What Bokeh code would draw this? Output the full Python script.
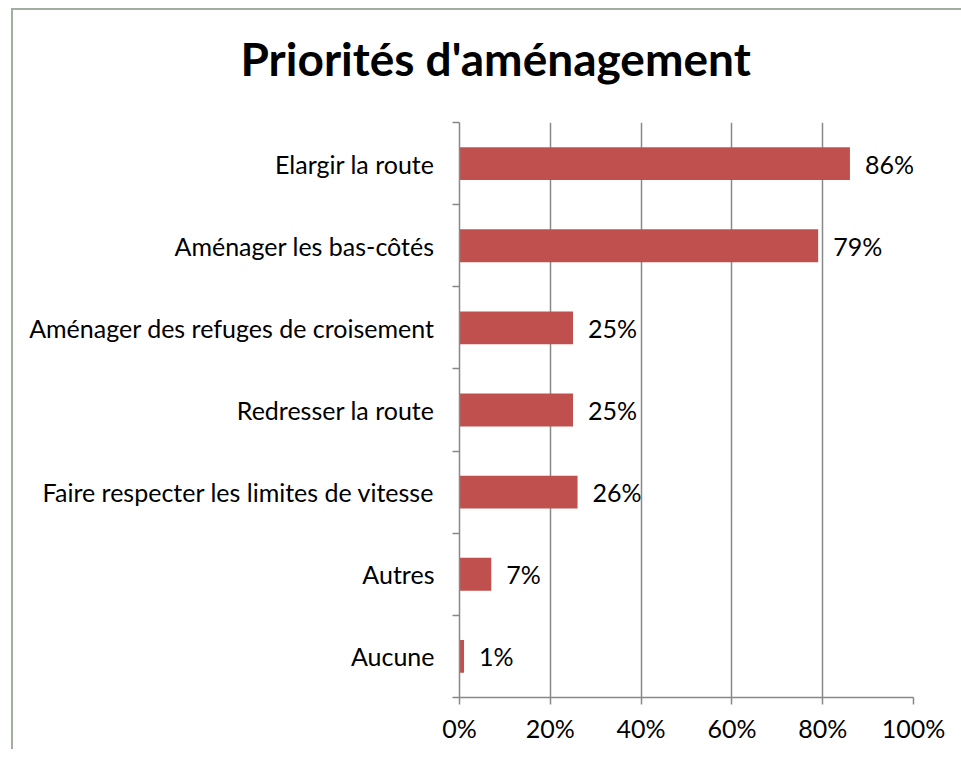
from bokeh.plotting import figure
from bokeh.models import (ColumnDataSource, FixedTicker, LabelSet, Title,
                          PrintfTickFormatter, Range1d)
from bokeh.core.properties import value
from bokeh.embed import file_html
from bokeh.resources import INLINE

categories = ["Elargir la route", "Aménager les bas-côtés",
              "Aménager des refuges de croisement", "Redresser la route",
              "Faire respecter les limites de vitesse", "Autres", "Aucune"]
values = [86, 79, 25, 25, 26, 7, 1]
value_labels = ["86%", "79%", "25%", "25%", "26%", "7%", "1%"]
x_ticks = [0, 20, 40, 60, 80, 100]
title_text = "Priorités d'aménagement"

FONT = "Lato"
GRAY = "#888888"
FRAME_LINE = "#A3AEA3"
n = len(categories)
ypos = [n - i - 0.5 for i in range(n)]

src = ColumnDataSource(dict(y=ypos, v=values, lab=value_labels, cat=categories))

p = figure(width=950, height=757, output_backend="svg", toolbar_location=None,
           x_range=Range1d(0, 100), y_range=Range1d(0, n),
           min_border_left=448, min_border_right=48, min_border_top=128,
           min_border_bottom=52)
p.title = None
p.outline_line_color = None
p.background_fill_color = "white"
p.border_fill_alpha = 0
p.styles = {
    "margin-left": "11px",
    "margin-top": "-8px",
    "background": (f"linear-gradient({FRAME_LINE}, {FRAME_LINE}) 0 16px / 100% 2px no-repeat, "
                   f"linear-gradient({FRAME_LINE}, {FRAME_LINE}) 0 16px / 2px 100% no-repeat, "
                   "white"),
}

p.hbar(y="y", left=0, right="v", height=0.4, source=src,
       fill_color="#C0504D", line_color=None)

labels = LabelSet(x="v", y="y", text="lab", source=src, x_offset=15,
                  text_baseline="middle", text_align="left",
                  text_font=value(FONT), text_font_size="25px", text_color="black")
p.add_layout(labels)

# x axis
p.xaxis.ticker = FixedTicker(ticks=x_ticks)
p.xaxis.formatter = PrintfTickFormatter(format="%d%%")
p.xaxis.axis_line_color = GRAY
p.xaxis.axis_line_width = 1.5
p.xaxis.major_tick_line_color = GRAY
p.xaxis.major_tick_line_width = 1.5
p.xaxis.major_tick_out = 7
p.xaxis.major_tick_in = 0
p.xaxis.minor_tick_line_color = None
p.xaxis.major_label_text_font = FONT
p.xaxis.major_label_text_font_size = "25px"
p.xaxis.major_label_text_color = "black"
p.xaxis.major_label_standoff = 8

# y axis
p.yaxis.ticker = FixedTicker(ticks=ypos, minor_ticks=list(range(n + 1)))
p.yaxis.major_label_overrides = {y: c for y, c in zip(ypos, categories)}
p.yaxis.axis_line_color = GRAY
p.yaxis.axis_line_width = 1.5
p.yaxis.major_tick_line_color = None
p.yaxis.major_tick_out = 0
p.yaxis.major_tick_in = 0
p.yaxis.minor_tick_line_color = GRAY
p.yaxis.minor_tick_line_width = 1.5
p.yaxis.minor_tick_out = 7
p.yaxis.minor_tick_in = 0
p.yaxis.major_label_text_font = FONT
p.yaxis.major_label_text_font_size = "25px"
p.yaxis.major_label_text_color = "black"
p.yaxis.major_label_standoff = 18

p.xgrid.grid_line_color = GRAY
p.xgrid.grid_line_width = 1.5
p.ygrid.grid_line_color = None

t = Title(text=title_text, text_font=FONT, text_font_size="46px",
          text_font_style="bold", text_color="black", align="left", offset=-219,
          standoff=73)
p.add_layout(t, "above")

open("out.html", "w").write(file_html(p, INLINE))
